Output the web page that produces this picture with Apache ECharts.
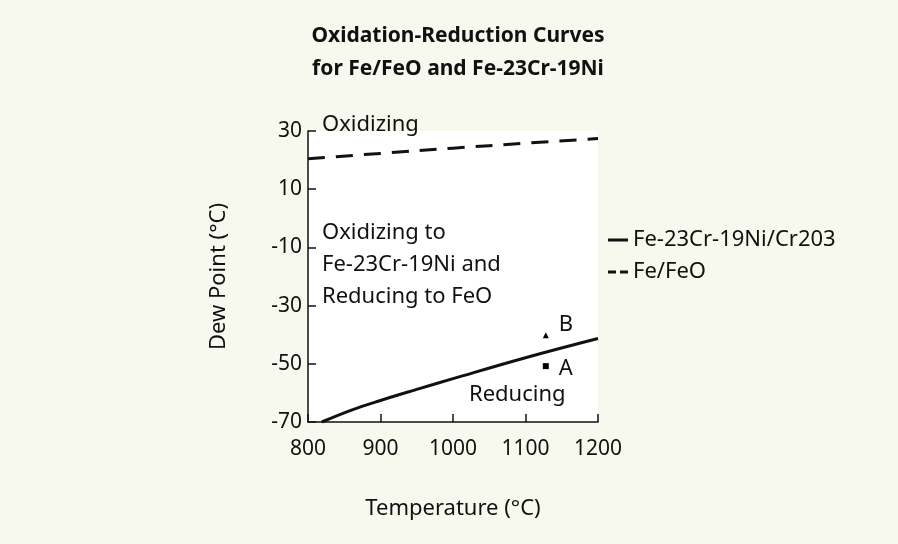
<!DOCTYPE html>
<html>
<head>
<meta charset="utf-8">
<script src="https://cdn.jsdelivr.net/npm/echarts@6/dist/echarts.min.js"></script>
<style>
html,body{margin:0;padding:0;background:#f7f8ee;}
#chart{width:898px;height:544px;}
</style>
</head>
<body>
<div id="chart"></div>
<script>
const titleText = 'Oxidation-Reduction Curves\nfor Fe/FeO and Fe-23Cr-19Ni';
const xName = 'Temperature (\u00B0C)';
const yName = 'Dew Point (\u00B0C)';
const seriesNames = ['Fe-23Cr-19Ni/Cr203', 'Fe/FeO'];
const crLine = [[819, -70], [860, -65.9], [900, -62.6], [950, -58.8], [1000, -55.1], [1100, -47.9], [1200, -41.3]];
const feLine = [[800, 20.5], [900, 22.3], [1000, 24.1], [1100, 25.8], [1200, 27.4]];
const pointA = [[1128, -50.8]];
const pointB = [[1128, -40.2]];
const pointLabels = ['A', 'B'];
const regionTexts = ['Oxidizing', 'Oxidizing to\nFe-23Cr-19Ni and\nReducing to FeO', 'Reducing'];

const FONT = '"Noto Sans", "Open Sans", sans-serif';
const INK = '#111111';
const chart = echarts.init(document.getElementById('chart'));
chart.setOption({
  backgroundColor: '#f7f8ee',
  animation: false,
  title: {
    text: titleText,
    left: 453, top: 15, textAlign: 'center',
    textStyle: {fontFamily: FONT, fontSize: 21, fontWeight: 'bold', color: INK, lineHeight: 33}
  },
  grid: {left: 308, right: 300, top: 131, bottom: 122, show: true, backgroundColor: '#ffffff', borderWidth: 0},
  legend: {
    orient: 'vertical', left: 603, top: 224, itemWidth: 20, itemHeight: 3, itemGap: 10,
    data: [
      {name: seriesNames[0], icon: 'path://M0,0H20V3H0Z'},
      {name: seriesNames[1], icon: 'path://M0,0H8V3H0Z M12,0H20V3H12Z'}
    ],
    textStyle: {fontFamily: FONT, fontSize: 22, color: INK, lineHeight: 22},
    itemStyle: {color: INK}
  },
  xAxis: {
    type: 'value', min: 800, max: 1200, interval: 100,
    name: xName, nameLocation: 'middle', nameGap: 76,
    nameTextStyle: {fontFamily: FONT, fontSize: 22, color: INK},
    axisLine: {show: true, onZero: false, lineStyle: {color: INK, width: 1.5}},
    axisTick: {show: true, inside: true, length: 8, lineStyle: {color: INK, width: 1.5}},
    axisLabel: {fontFamily: FONT, fontSize: 21, color: INK, margin: 17, formatter: function (v) { return String(v); }},
    splitLine: {show: false}
  },
  yAxis: {
    type: 'value', min: -70, max: 30, interval: 20,
    name: yName, nameLocation: 'middle', nameGap: 78,
    nameTextStyle: {fontFamily: FONT, fontSize: 22, color: INK},
    axisLine: {show: true, onZero: false, lineStyle: {color: INK, width: 1.5}},
    axisTick: {show: true, inside: true, length: 8, lineStyle: {color: INK, width: 1.5}},
    axisLabel: {fontFamily: FONT, fontSize: 21, color: INK, margin: 6, formatter: function (v) { return String(v); }},
    splitLine: {show: false}
  },
  series: [
    {name: seriesNames[0], type: 'line', data: crLine, smooth: 0.4, symbol: 'none',
     lineStyle: {color: INK, width: 3}, itemStyle: {color: INK}},
    {name: seriesNames[1], type: 'line', data: feLine, smooth: 0.4, symbol: 'none',
     lineStyle: {color: INK, width: 3, type: [17, 11]}, itemStyle: {color: INK}},
    {name: 'A', type: 'scatter', data: pointA, symbol: 'rect', symbolSize: 6,
     itemStyle: {color: '#000', opacity: 1},
     label: {show: true, formatter: pointLabels[0], position: 'right', distance: 10, offset: [0, 3],
             fontFamily: FONT, fontSize: 22, color: INK, opacity: 1}},
    {name: 'B', type: 'scatter', data: pointB, symbol: 'triangle', symbolSize: 6,
     itemStyle: {color: '#000', opacity: 1},
     label: {show: true, formatter: pointLabels[1], position: 'right', distance: 10, offset: [0, -11],
             fontFamily: FONT, fontSize: 22, color: INK, opacity: 1}}
  ],
  graphic: [
    {type: 'text', x: 322, y: 125, style: {text: regionTexts[0], font: '22px ' + FONT, fill: INK, textAlign: 'left', textVerticalAlign: 'middle'}},
    {type: 'text', x: 322, y: 265, style: {text: regionTexts[1], font: '22px ' + FONT, fill: INK, textAlign: 'left', textVerticalAlign: 'middle', lineHeight: 32}},
    {type: 'text', x: 469, y: 395, style: {text: regionTexts[2], font: '22px ' + FONT, fill: INK, textAlign: 'left', textVerticalAlign: 'middle'}}
  ]
});
</script>
</body>
</html>
